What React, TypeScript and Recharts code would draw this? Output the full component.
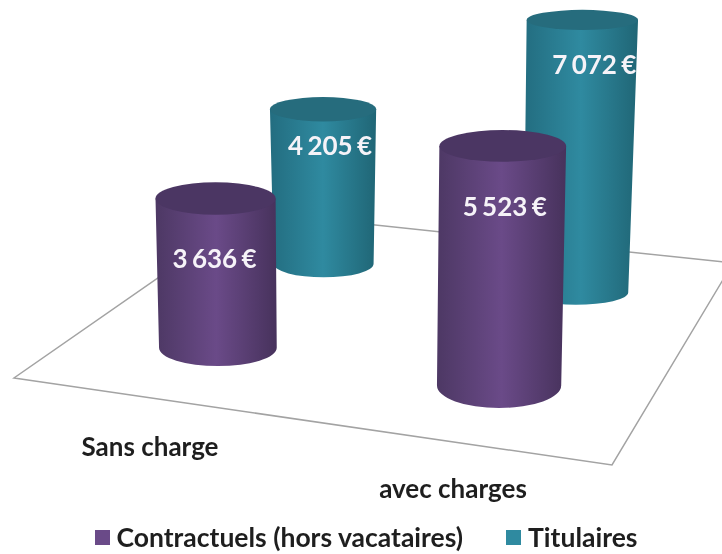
import { BarChart, Bar, XAxis, YAxis, Legend, Customized } from 'recharts';

const categories = ['Sans charge', 'avec charges'];
const contractuels = [3636, 5523];
const titulaires = [4205, 7072];

const chartData = categories.map((name, i) => ({
  name,
  'Contractuels (hors vacataires)': contractuels[i],
  Titulaires: titulaires[i],
}));

const WIDTH = 722;
const HEIGHT = 554;
const FONT = 'Lato, "Open Sans", sans-serif';

// floor plane corners seen in perspective, mapped from the unit square
const H = { a: 531.05, b: 307.6, c: 14, d: 36.13, e: -108.2, f: 378, g: -0.1094, h: 0.2726 };
const floorCorners = [[0, 0], [1, 0], [1, 1], [0, 1]];

const project = (u: number, v: number) => {
  const w = H.g * u + H.h * v + 1;
  return { x: (H.a * u + H.b * v + H.c) / w, y: (H.d * u + H.e * v + H.f) / w, w };
};

const Floor = () => (
  <polygon
    points={floorCorners.map(([u, v]) => { const p = project(u, v); return `${p.x},${p.y}`; }).join(' ')}
    fill="#fff"
    stroke="#a3a3a3"
    strokeWidth={1.5}
  />
);

const euros = (v: number) => String(v).replace(/\B(?=(\d{3})+$)/g, ' ') + ' €';

// rim flattening per category: [top, bottom], label shift from the top rim
const styles = {
  purple: {
    depth: 0.25,
    gradient: 'cylPurple',
    top: '#4b3663',
    rims: [[0.27, 0.31], [0.25, 0.365]],
    label: [[0, 59], [3, 60]],
  },
  teal: {
    depth: 0.75,
    gradient: 'cylTeal',
    top: '#266c7d',
    rims: [[0.23, 0.27], [0.18, 0.23]],
    label: [[8, 36], [13, 44]],
  },
};

const Cylinder = (props: any) => {
  const { x, width, height, index, look, dataKey, payload } = props;
  const s = styles[look as 'purple' | 'teal'];
  const base = project((x + width / 2) / WIDTH, s.depth);
  const baseX = base.x + 3;
  const baseY = base.y + 1 + 4 * s.depth;
  const h = (height / base.w) * (1 + (s.depth - 0.25) * 0.025);
  const topX = baseX + (baseX - 360) * h * 0.00011;
  const topY = baseY - h;
  const rxTop = width / base.w / 2;
  const rxBase = rxTop * (1 - 0.08 * s.depth);
  const [flatTop, flatBase] = s.rims[index];
  const ryTop = rxTop * flatTop;
  const ryBase = rxBase * flatBase;
  const [lx, ly] = s.label[index];
  const body = `M${topX - rxTop},${topY} L${baseX - rxBase},${baseY} A${rxBase},${ryBase} 0 0 0 ${baseX + rxBase},${baseY} L${topX + rxTop},${topY} Z`;
  return (
    <g>
      <path d={body} fill={`url(#${s.gradient})`} />
      <ellipse cx={topX} cy={topY} rx={rxTop} ry={ryTop} fill={s.top} />
      <text
        x={topX + lx - 1}
        y={topY + ly}
        textAnchor="middle"
        dominantBaseline="central"
        fill="#f6f3f8"
        fontFamily={FONT}
        fontWeight={700}
        fontSize={26}
        wordSpacing={-2}
      >
        {euros(payload[dataKey])}
      </text>
    </g>
  );
};

const tickShift = [[-30.5, 446], [-88.5, 488]];

const CategoryTick = (props: any) => {
  const { x, index, payload } = props;
  const [dx, py] = tickShift[index];
  return (
    <text x={x + dx} y={py} textAnchor="middle" dominantBaseline="central" fill="#1e1e1e" fontFamily={FONT} fontWeight={700} fontSize={26}>
      {payload.value}
    </text>
  );
};

export default function App() {
  return (
    <div style={{ position: 'absolute', left: 0, top: 0, width: WIDTH, height: HEIGHT, background: '#fff', overflow: 'hidden', filter: 'blur(0.4px)' }}>
      <BarChart
        width={WIDTH}
        height={HEIGHT}
        data={chartData}
        margin={{ top: 20, right: 0, bottom: 132, left: 0 }}
        barSize={125}
        barGap={-125}
      >
        <defs>
          <linearGradient id="cylPurple" x1="0" x2="1" y1="0" y2="0">
            <stop offset="0%" stopColor="#4d3864" />
            <stop offset="50%" stopColor="#6a4a88" />
            <stop offset="100%" stopColor="#47325c" />
          </linearGradient>
          <linearGradient id="cylTeal" x1="0" x2="1" y1="0" y2="0">
            <stop offset="0%" stopColor="#236d80" />
            <stop offset="50%" stopColor="#2f8aa0" />
            <stop offset="100%" stopColor="#206676" />
          </linearGradient>
        </defs>
        <Customized component={Floor} />
        <XAxis dataKey="name" height={60} axisLine={false} tickLine={false} tick={<CategoryTick />} interval={0} />
        <YAxis hide domain={[0, 8000]} />
        <Legend
          layout="horizontal"
          verticalAlign="middle"
          align="center"
          iconType="square"
          iconSize={15}
          wrapperStyle={{ left: 23, top: 521, width: 729 }}
          formatter={(value: string) => (
            <span style={{ color: '#1e1e1e', fontFamily: FONT, fontWeight: 700, fontSize: 26.5, marginLeft: 3, marginRight: 33, verticalAlign: 'middle' }}>{value}</span>
          )}
        />
        <Bar dataKey="Titulaires" fill="#2f8aa0" isAnimationActive={false} shape={<Cylinder look="teal" />} />
        <Bar dataKey="Contractuels (hors vacataires)" fill="#6a4a88" isAnimationActive={false} shape={<Cylinder look="purple" />} />
      </BarChart>
    </div>
  );
}
